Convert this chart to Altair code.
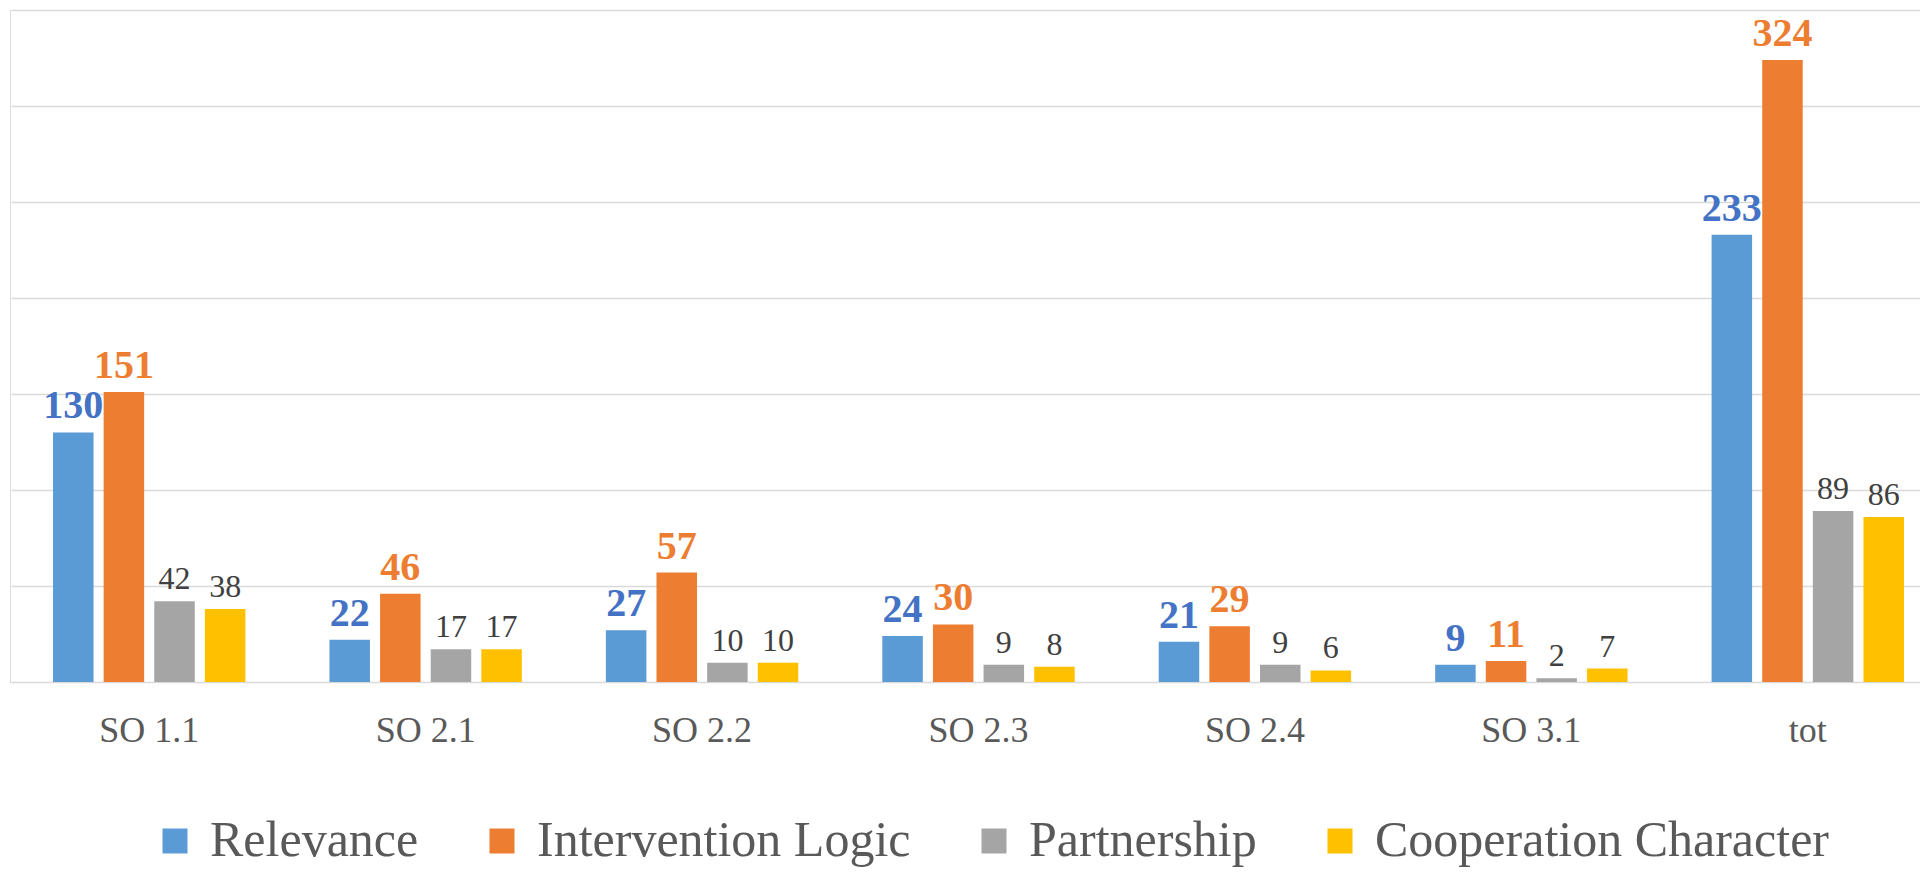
import altair as alt
import pandas as pd

categories = ["SO 1.1", "SO 2.1", "SO 2.2", "SO 2.3", "SO 2.4", "SO 3.1", "tot"]
series = ["Relevance", "Intervention Logic", "Partnership", "Cooperation Character"]
relevance = [130, 22, 27, 24, 21, 9, 233]
intervention = [151, 46, 57, 30, 29, 11, 324]
partnership = [42, 17, 10, 9, 9, 2, 89]
cooperation = [38, 17, 10, 8, 6, 7, 86]

bar_colors = ["#5B9BD5", "#ED7D31", "#A5A5A5", "#FFC000"]
label_colors = ["#4472C4", "#ED7D31", "#404040", "#404040"]
bold_series = ["Relevance", "Intervention Logic"]

rows = []
for s, vals, lc in zip(series, [relevance, intervention, partnership, cooperation], label_colors):
    for c, v in zip(categories, vals):
        rows.append({"cat": c, "series": s, "value": v, "lc": lc, "bold": s in bold_series})
df = pd.DataFrame(rows)

FONT = "Liberation Serif"

x = alt.X("cat:N", sort=categories,
          scale=alt.Scale(paddingInner=0, paddingOuter=0, range=[1, 1936]),
          axis=alt.Axis(title=None, labelAngle=0, ticks=False, domain=False,
                        labelFont=FONT, labelFontSize=36, labelColor="#595959",
                        labelPadding=31, grid=False))
xo = alt.XOffset("series:N", sort=series,
                 scale=alt.Scale(paddingInner=0.2, paddingOuter=0.83))
y = alt.Y("value:Q", scale=alt.Scale(domain=[0, 350], nice=False),
          axis=alt.Axis(title=None, labels=False, ticks=False, domain=False,
                        values=[0, 50, 100, 150, 200, 250, 300, 350],
                        grid=True, gridColor="#D9D9D9", gridWidth=1.5))

bars = alt.Chart(df).mark_bar().encode(
    x=x, xOffset=xo, y=y,
    color=alt.Color("series:N", sort=series,
                    scale=alt.Scale(domain=series, range=bar_colors),
                    legend=alt.Legend(orient="none", legendX=140, legendY=806,
                                      direction="horizontal", title=None,
                                      labelFont=FONT, labelFontSize=50, labelColor="#595959",
                                      symbolType="square", symbolSize=625, symbolStrokeWidth=0,
                                      columnPadding=58, labelOffset=10, labelLimit=0)),
)

bold_text = alt.Chart(df).transform_filter("datum.bold").mark_text(
    font=FONT, fontWeight="bold", fontSize=40, baseline="alphabetic", dy=-14
).encode(x=x, xOffset=xo, y=y, text="value:Q", fill=alt.Fill("lc:N", scale=None))

reg_text = alt.Chart(df).transform_filter("!datum.bold").mark_text(
    font=FONT, fontSize=32, baseline="alphabetic", dy=-12
).encode(x=x, xOffset=xo, y=y, text="value:Q", fill=alt.Fill("lc:N", scale=None))

chart = alt.layer(bars, bold_text, reg_text).properties(
    width=1910, height=672,
    autosize=alt.AutoSizeParams(type="none"),
    padding={"left": 2, "top": 2, "right": 0, "bottom": 186},
).configure_view(stroke=None).configure(background="white", font=FONT)

chart.save("out.html", embed_options={"renderer": "svg", "actions": False})
